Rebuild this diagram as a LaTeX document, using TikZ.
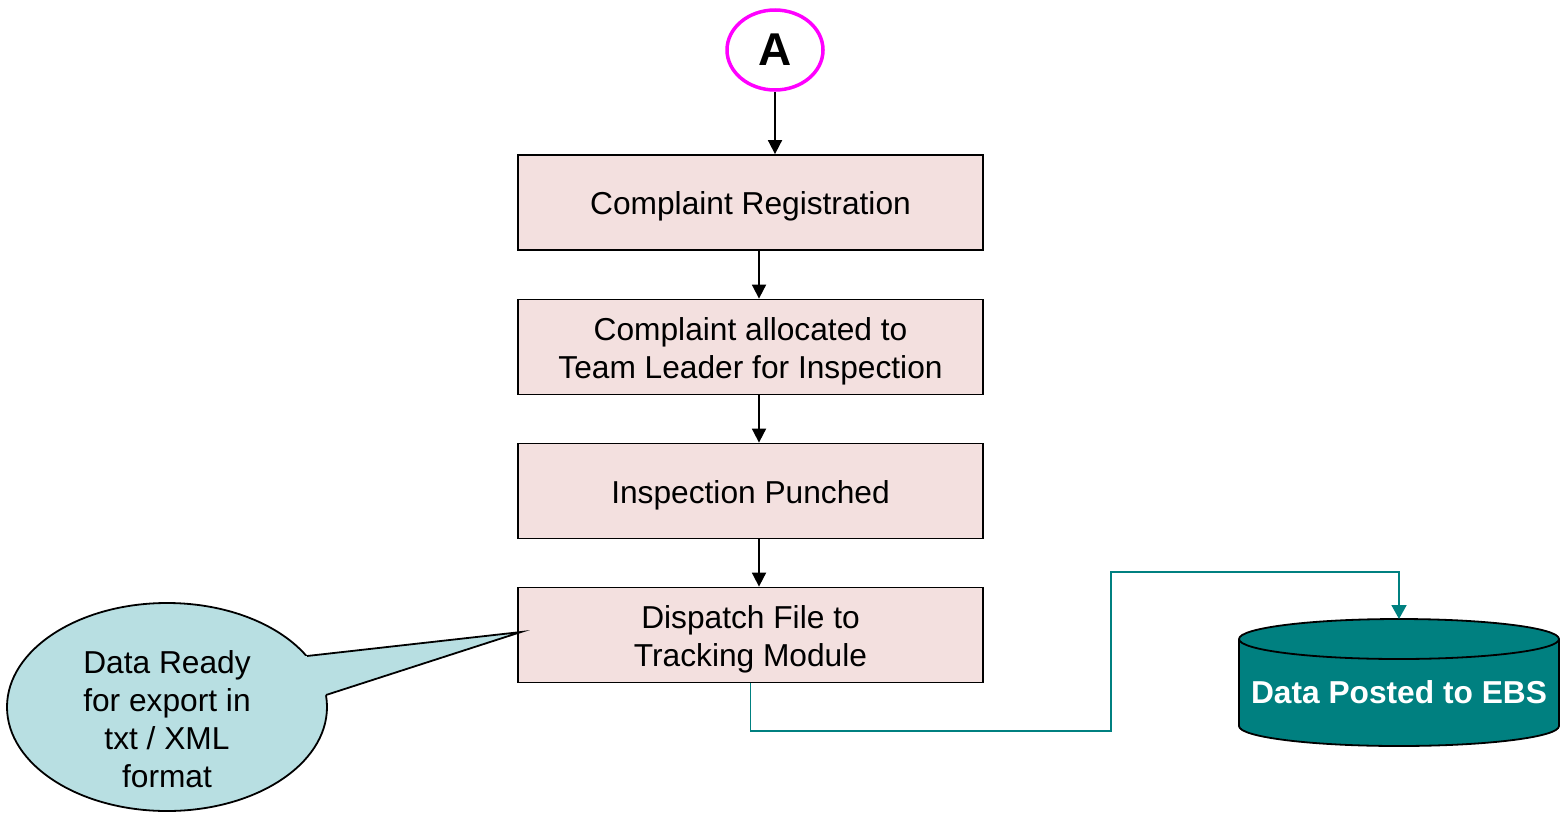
\documentclass[tikz,border=0pt]{standalone}
\usepackage{fontspec}
\setmainfont{Liberation Sans}
\usetikzlibrary{shapes.geometric,arrows.meta}
\definecolor{boxfill}{HTML}{F3E0DF}
\definecolor{callfill}{HTML}{B8DFE2}
\definecolor{tealc}{HTML}{008080}
\definecolor{magc}{HTML}{FF00FF}
\begin{document}
\begin{tikzpicture}[x=1pt,y=-1pt,
  txt/.style={font=\fontsize{31.7pt}{38pt}\selectfont, align=center, inner sep=0pt},
  stepbox/.style={draw=black, line width=1.8pt, fill=boxfill, minimum width=465pt, minimum height=95pt, inner sep=0pt},
  arr/.style={line width=1.8pt, -{Triangle[length=14pt,width=14pt]}},
  tarr/.style={draw=tealc, line width=1.8pt, -{Triangle[length=14pt,width=15pt]}}
]
\useasboundingbox (0,0) rectangle (1565,814);
% start connector
\node[ellipse, draw=magc, line width=3.5pt, fill=white, minimum width=96pt, minimum height=80pt, inner sep=0pt,
      font=\fontsize{46pt}{50pt}\selectfont\bfseries] (A) at (775,50) {A};
% boxes
\node[stepbox] (b1) at (750.5,202.5) {};
\node[stepbox] (b2) at (750.5,347) {};
\node[stepbox] (b3) at (750.5,491) {};
\node[stepbox] (b4) at (750.5,635) {};
\node[txt] (t1) at ([yshift=-4pt]b1.center) {Complaint Registration};
\node[txt] (t2) at ([yshift=-4pt]b2.center) {Complaint allocated to\\Team Leader for Inspection};
\node[txt] (t3) at ([yshift=-4pt]b3.center) {Inspection Punched};
\node[txt] (t4) at ([yshift=-4pt]b4.center) {Dispatch File to\\Tracking Module};
% arrows
\draw[arr] (A.south) -- (A.south |- b1.north);
\draw[arr] ([xshift=8.5pt]b1.south) -- ([xshift=8.5pt]b2.north);
\draw[arr] ([xshift=8.5pt]b2.south) -- ([xshift=8.5pt]b3.north);
\draw[arr] ([xshift=8.5pt]b3.south) -- ([xshift=8.5pt]b4.north);
% cylinder
\fill[tealc] (1239,639) rectangle (1559,726);
\fill[tealc] (1399,726) ellipse [x radius=160, y radius=20];
\draw[line width=1.8pt, fill=tealc] (1399,639) ellipse [x radius=160, y radius=20];
\draw[line width=1.8pt] (1239,639) -- (1239,726) arc[start angle=180, end angle=0, x radius=160, y radius=20] -- (1559,639);
\node[txt, font=\fontsize{31.7pt}{38pt}\selectfont\bfseries, text=white] (ebs) at (1399,692) {Data Posted to EBS};
\coordinate (cyltop) at (1399,619);
% teal connector
\coordinate (j1) at (1111,731);
\coordinate (j2) at (1111,572);
\draw[tarr] (b4.south) |- (j1) -- (j2) -| (cyltop);
% callout
\node[ellipse, draw=black, line width=1.8pt, fill=callfill, minimum width=320pt, minimum height=208pt] (call) at (167,707) {};
\coordinate (tip) at (521,632);
\fill[callfill] (285.6,658.4) -- (tip) -- (306.5,701.3) -- cycle;
\draw[line width=1.8pt, line join=miter] (307,656) -- (tip) -- (326,695);
\node[txt] (calltext) at (167,719) {Data Ready\\for export in\\txt / XML\\format};
\end{tikzpicture}
\end{document}
